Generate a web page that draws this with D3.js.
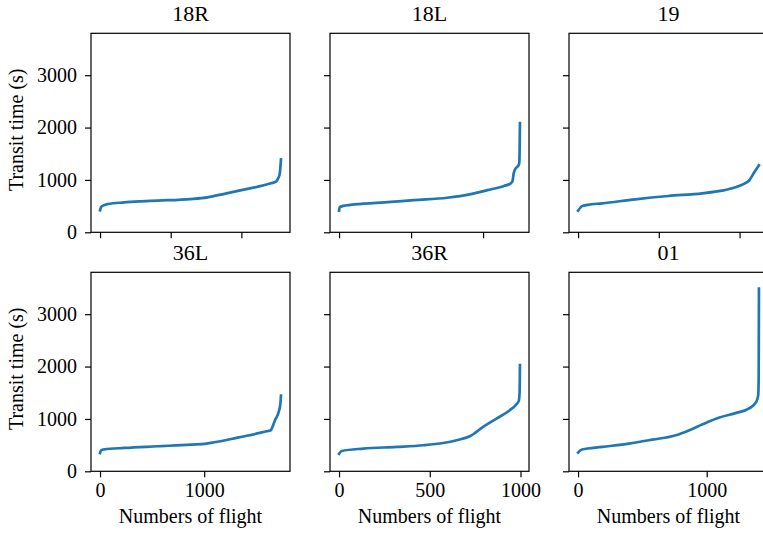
<!DOCTYPE html>
<html>
<head>
<meta charset="utf-8">
<script src="https://cdn.jsdelivr.net/npm/d3@7"></script>
<style>
  html, body { margin: 0; padding: 0; background: #fff; overflow: hidden; }
  #chart { width: 763px; height: 536px; overflow: hidden; }
</style>
</head>
<body>
<div id="chart"></div>
<script>
// runway names, in grid order (row by row)
var runways = ["18R", "18L", "19", "36L", "36R", "01"];

// sorted transit times: [flight index, seconds]
var t18R = [[0, 420], [7, 480], [25, 515], [55, 540], [170, 570], [290, 590], [410, 605],
  [640, 635], [760, 668], [880, 735], [1000, 805], [1115, 870], [1210, 935], [1245, 968],
  [1262, 1040], [1272, 1130], [1280, 1390]];
var t18L = [[0, 412], [5, 480], [30, 505], [80, 525], [290, 565], [520, 615], [750, 660],
  [915, 730], [1030, 805], [1145, 885], [1190, 930], [1204, 975], [1212, 1120], [1220, 1190],
  [1250, 1300], [1253, 1450], [1256, 2085]];
var t19 = [[0, 412], [25, 500], [60, 525], [150, 553], [355, 630], [560, 693], [770, 745],
  [890, 795], [975, 860], [1030, 930], [1058, 985], [1090, 1140], [1120, 1280]];
var t36L = [[0, 350], [10, 400], [41, 418], [233, 446], [553, 478], [872, 510], [1023, 530],
  [1096, 554], [1278, 625], [1352, 656], [1534, 733], [1600, 765], [1640, 785], [1655, 845],
  [1680, 975], [1719, 1160], [1732, 1300], [1737, 1445]];
var t36R = [[0, 335], [15, 388], [134, 433], [317, 465], [464, 497], [574, 541], [648, 593],
  [721, 669], [794, 847], [868, 1007], [941, 1166], [975, 1270], [990, 1340], [995, 1500],
  [997, 2027]];
var t01 = [[0, 357], [31, 415], [188, 465], [396, 529], [578, 605], [761, 688], [865, 784],
  [969, 899], [1099, 1027], [1230, 1115], [1330, 1200], [1386, 1330], [1400, 1450],
  [1404, 1800], [1406, 3490]];
var series = [t18R, t18L, t19, t36L, t36R, t01];

// tick values
var xTicks = [[0, 500, 1000], [0, 500, 1000], [0, 500, 1000], [0, 1000], [0, 500, 1000], [0, 1000]];
var yTicks = [0, 1000, 2000, 3000];
var yMax = 3800;

var serif = '"Liberation Serif", "Times New Roman", Times, serif';
var width = 763, height = 536;
var panel = 199, left0 = 91, top0 = 33.3, gapX = 40, gapY = 40;

var svg = d3
  .select("#chart")
  .append("svg")
  .attr("width", width)
  .attr("height", height);

var y = d3.scaleLinear().domain([0, yMax]).range([panel, 0]);

runways.forEach(function(name, i) {
  var col = i % 3, row = Math.floor(i / 3);
  var data = series[i];
  var xmax = d3.max(data, function(d) { return d[0]; });
  // matplotlib-like 5% margins
  var x = d3.scaleLinear()
    .domain([-0.05 * xmax, 1.05 * xmax])
    .range([0, panel]);

  var g = svg.append("g")
    .attr("transform", "translate(" + (left0 + col * (panel + gapX)) + "," + (top0 + row * (panel + gapY)) + ")");

  // x axis: labels only on bottom row
  var xAxis = d3.axisBottom(x).tickValues(xTicks[i]).tickSize(6).tickPadding(6)
    .tickFormat(row === 1 ? d3.format("d") : "");
  var gx = g.append("g").attr("transform", "translate(0," + panel + ")").call(xAxis);

  // y axis: labels only on the left column
  var yAxis = d3.axisLeft(y).tickValues(yTicks).tickSize(6).tickPadding(8)
    .tickFormat(col === 0 ? d3.format("d") : "");
  var gy = g.append("g").call(yAxis);

  [gx, gy].forEach(function(a) {
    a.attr("font-family", null).attr("font-size", null);
    a.select(".domain").remove();
    a.selectAll(".tick line").attr("stroke", "#000").attr("stroke-width", 1.2);
    a.selectAll(".tick text")
      .style("font-family", serif)
      .style("font-size", "20px")
      .attr("fill", "#000");
  });

  // the line
  var line = d3.line()
    .x(function(d) { return x(d[0]); })
    .y(function(d) { return y(d[1]); })
    .curve(d3.curveMonotoneX);

  g.append("path")
    .datum(data)
    .attr("fill", "none")
    .attr("stroke", "#1f77b4")
    .attr("stroke-width", 2.7)
    .attr("stroke-linecap", "square")
    .attr("d", line);

  // frame
  g.append("rect")
    .attr("width", panel)
    .attr("height", panel)
    .attr("fill", "none")
    .attr("stroke", "#000")
    .attr("stroke-width", 1.2);

  // title
  g.append("text")
    .attr("x", panel / 2)
    .attr("y", -12.5)
    .attr("text-anchor", "middle")
    .style("font-family", serif)
    .style("font-size", "22px")
    .text(name);

  if (row === 1) {
    g.append("text")
      .attr("x", panel / 2)
      .attr("y", panel + 52)
      .attr("text-anchor", "middle")
      .style("font-family", serif)
      .style("font-size", "20px")
      .text("Numbers of flight");
  }
  if (col === 0) {
    g.append("text")
      .attr("transform", "translate(-68," + (panel / 2 - 3) + ") rotate(-90)")
      .attr("text-anchor", "middle")
      .style("font-family", serif)
      .style("font-size", "20px")
      .text("Transit time (s)");
  }
});
</script>
</body>
</html>
